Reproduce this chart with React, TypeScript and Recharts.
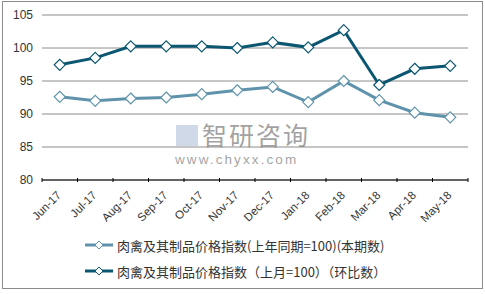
import { LineChart, Line, XAxis, YAxis, CartesianGrid } from 'recharts';

const months = ['Jun-17', 'Jul-17', 'Aug-17', 'Sep-17', 'Oct-17', 'Nov-17', 'Dec-17', 'Jan-18', 'Feb-18', 'Mar-18', 'Apr-18', 'May-18'];
const yoyValues = [92.6, 92.0, 92.35, 92.5, 93.0, 93.6, 94.1, 91.8, 95.0, 92.1, 90.2, 89.5];
const momValues = [97.45, 98.5, 100.25, 100.25, 100.25, 100.0, 100.85, 100.1, 102.7, 94.4, 96.85, 97.3];
const yTicks = [80, 85, 90, 95, 100, 105];

const SERIES = [
  { key: 'yoy', name: '肉禽及其制品价格指数(上年同期=100)(本期数)', color: '#5f93ab' },
  { key: 'mom', name: '肉禽及其制品价格指数（上月=100）（环比数）', color: '#0b5670' },
];

const data = months.map((m, i) => ({ month: m, yoy: yoyValues[i], mom: momValues[i] }));

const FONT = '"Liberation Sans", Arial, sans-serif';
const CJK = '"Noto Sans CJK SC", "Liberation Sans", sans-serif';
const HALF = 426 / months.length / 2;

const Diamond = (color: string) => (props: any) => {
  const { cx, cy, index } = props;
  if (cx == null || cy == null) return null;
  const r = 5.5;
  return (
    <polygon
      key={`d-${index}`}
      points={`${cx},${cy - r} ${cx + r},${cy} ${cx},${cy + r} ${cx - r},${cy}`}
      fill="#fff"
      stroke={color}
      strokeWidth={1.2}
    />
  );
};

function XTick(props: any) {
  const { x, y, payload, index } = props;
  const ax = x + 2;
  const ay = y + 8;
  return (
    <g>
      <line x1={x - HALF} x2={x - HALF} y1={y - 10} y2={y - 6} stroke="#000" />
      {index === months.length - 1 && (
        <line x1={x + HALF} x2={x + HALF} y1={y - 10} y2={y - 6} stroke="#000" />
      )}
      <text
        x={ax}
        y={ay}
        textAnchor="end"
        transform={`rotate(-45, ${ax}, ${ay})`}
        fontSize={11.5}
        fontFamily={FONT}
        fill="#333"
      >
        {payload.value}
      </text>
    </g>
  );
}

function LegendBox() {
  return (
    <div style={{ position: 'absolute', left: 85, top: 232, fontFamily: CJK, fontSize: 13, color: '#333' }}>
      {SERIES.map((s) => (
        <div key={s.key} style={{ display: 'flex', alignItems: 'center', height: 26 }}>
          <svg width={30} height={12} style={{ marginRight: 2 }}>
            <line x1={0} x2={28} y1={6} y2={6} stroke={s.color} strokeWidth={3} />
            <polygon points="14,2 18,6 14,10 10,6" fill="#fff" stroke={s.color} strokeWidth={1} />
          </svg>
          <span>{s.name}</span>
        </div>
      ))}
    </div>
  );
}

export default function App() {
  return (
    <div style={{ position: 'absolute', left: 0, top: 0, width: 485, height: 294, background: '#fff' }}>
      <div
        style={{
          position: 'absolute',
          left: 2,
          top: 1,
          width: 479,
          height: 286,
          border: '1px solid #8c8c8c',
        }}
      />
      <div
        style={{
          position: 'absolute',
          left: 202,
          top: 121,
          fontFamily: CJK,
          fontSize: 25,
          lineHeight: '27px',
          color: 'rgba(120,120,120,0.7)',
          letterSpacing: 2,
        }}
      >
        智研咨询
      </div>
      <div
        style={{
          position: 'absolute',
          left: 175,
          top: 153,
          fontFamily: FONT,
          fontSize: 13.5,
          lineHeight: '14px',
          color: 'rgba(120,120,120,0.7)',
          letterSpacing: 2.1,
        }}
      >
        www.chyxx.com
      </div>
      <div style={{ position: 'absolute', left: 176, top: 125, width: 22, height: 21, background: 'rgba(100,130,180,0.3)' }} />
      <div style={{ position: 'absolute', left: 0, top: 0 }}>
        <LineChart width={485} height={294} data={data} margin={{ top: 15, right: 17, bottom: 64, left: 0 }}>
          <CartesianGrid vertical={false} stroke="#8c8c8c" />
          <XAxis
            dataKey="month"
            height={50}
            padding={{ left: HALF, right: HALF }}
            axisLine={{ stroke: '#000' }}
            tickLine={false}
            tick={<XTick />}
            interval={0}
          />
          <YAxis
            domain={[80, 105]}
            ticks={yTicks}
            width={42}
            axisLine={false}
            tickLine={false}
            tickMargin={3}
            tick={{ fontSize: 12, fontFamily: FONT, fill: '#333' }}
          />
          {SERIES.map((s) => (
            <Line
              key={s.key}
              dataKey={s.key}
              name={s.name}
              stroke={s.color}
              strokeWidth={3}
              dot={Diamond(s.color)}
              activeDot={false}
              isAnimationActive={false}
            />
          ))}
        </LineChart>
      </div>
      <LegendBox />
    </div>
  );
}
